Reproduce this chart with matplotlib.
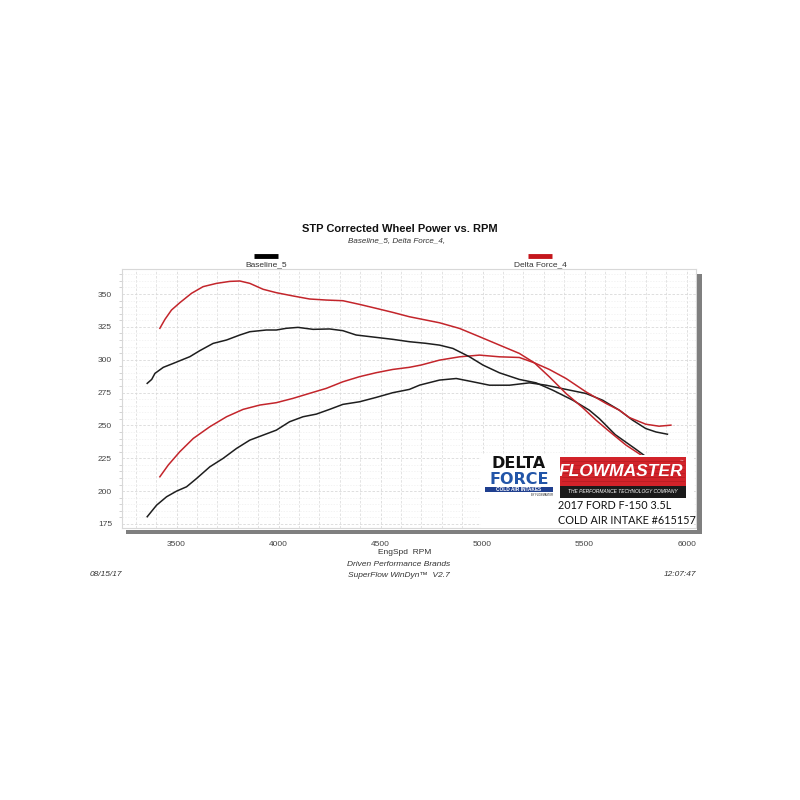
import matplotlib
matplotlib.use("Agg")
import matplotlib.pyplot as plt
from matplotlib.patches import Rectangle
from matplotlib.ticker import MultipleLocator

# --- data ---
df_tq_rpm = [3418, 3443, 3475, 3516, 3573, 3630, 3696, 3761, 3810, 3859, 3924, 3989,
             4071, 4152, 4234, 4315, 4397, 4478, 4560, 4641, 4789, 4887, 4985, 5083,
             5180, 5254, 5327, 5409, 5490, 5556, 5605, 5703, 5801, 5880]
df_tq = [323.9, 330.7, 337.8, 343.4, 350.5, 355.6, 358.1, 359.6, 359.9, 358.1, 353.6, 351.0,
         348.5, 346.2, 345.4, 344.9, 342.1, 339.1, 336.0, 332.7, 328.1, 323.8, 317.5, 311.1,
         304.8, 297.6, 287.0, 274.3, 263.6, 254.0, 247.5, 235.0, 225.0, 216.0]

base_tq_rpm = [3356, 3378, 3394, 3435, 3484, 3533, 3565, 3614, 3679, 3745, 3810, 3859,
               3940, 3989, 4038, 4095, 4169, 4250, 4315, 4380, 4478, 4560, 4641, 4720,
               4789, 4854, 4936, 5002, 5083, 5180, 5262, 5344, 5442, 5523, 5572, 5650,
               5750, 5820, 5880]
base_tq = [282.0, 285.0, 289.6, 294.2, 297.2, 300.3, 302.3, 306.9, 312.4, 315.0, 318.8, 321.3,
           322.6, 322.6, 323.9, 324.6, 323.1, 323.4, 322.1, 318.8, 317.0, 315.5, 313.7, 312.5,
           311.1, 308.6, 302.2, 295.9, 290.0, 285.0, 282.4, 276.8, 269.2, 261.6, 255.2, 243.0,
           232.0, 224.0, 216.0]

df_hp_rpm = [3418, 3459, 3516, 3582, 3663, 3745, 3826, 3908, 3989, 4071, 4152, 4234,
             4315, 4397, 4478, 4560, 4641, 4700, 4789, 4887, 4985, 5083, 5180, 5254,
             5327, 5409, 5507, 5605, 5670, 5719, 5800, 5865, 5923]
df_hp = [210.9, 219.8, 230.0, 240.1, 249.0, 256.6, 262.2, 265.5, 267.3, 270.6, 274.4, 278.2,
         283.2, 287.1, 290.1, 292.6, 294.2, 296.0, 299.7, 302.2, 303.5, 302.2, 301.7, 297.6,
         292.6, 285.7, 275.5, 266.7, 261.6, 256.0, 250.9, 249.4, 250.2]

base_hp_rpm = [3356, 3402, 3451, 3500, 3549, 3598, 3663, 3728, 3794, 3859, 3924, 3989,
               4054, 4120, 4185, 4250, 4315, 4397, 4478, 4560, 4641, 4692, 4789, 4871,
               4952, 5034, 5132, 5230, 5311, 5409, 5507, 5588, 5670, 5735, 5800, 5850, 5906]
base_hp = [180.5, 189.3, 195.7, 200.0, 203.3, 209.6, 218.5, 224.9, 232.5, 238.8, 242.6, 246.4,
           252.8, 256.6, 258.6, 262.2, 266.0, 268.0, 271.3, 274.9, 277.4, 280.7, 284.5, 285.7,
           283.2, 280.6, 280.6, 282.4, 280.6, 277.4, 274.3, 269.2, 261.6, 254.0, 247.6, 245.0, 243.3]

x_ticks = [3500, 4000, 4500, 5000, 5500, 6000]
y_ticks = [175, 200, 225, 250, 275, 300, 325, 350]

RED = "#c3252b"
BLK = "#1e1e1e"
SANS = ["Liberation Sans", "DejaVu Sans"]
TXT = "#333333"

fig = plt.figure(figsize=(8, 8), dpi=100)
fig.patch.set_facecolor("white")

# main plot area (pixel box 121.7..696 x 269..528.3)
ax = fig.add_axes([121.7 / 800, 1 - 528.3 / 800, (696 - 121.7) / 800, (528.3 - 269.3) / 800])
ax.plot(base_hp_rpm, base_hp, color=BLK, lw=1.1)
ax.plot(df_hp_rpm, df_hp, color=RED, lw=1.1)
ax.plot(base_tq_rpm, base_tq, color=BLK, lw=1.1)
ax.plot(df_tq_rpm, df_tq, color=RED, lw=1.1)

ax.set_xlim(3231, 6046)
ax.set_ylim(171.7, 368.8)
ax.set_xticks(x_ticks)
ax.set_yticks(y_ticks)
ax.xaxis.set_minor_locator(MultipleLocator(100))
ax.yaxis.set_minor_locator(MultipleLocator(5))
ax.grid(which="major", color="#d9d9d9", ls=(0, (3, 2)), lw=0.6)
ax.grid(which="minor", axis="x", color="#dedede", ls=(0, (3, 2)), lw=0.6)
ax.grid(which="minor", axis="y", color="#efefef", ls=(0, (2, 2)), lw=0.5)
ax.tick_params(which="major", length=0, labelsize=6, labelcolor="#444444")
ax.tick_params(axis="y", pad=7)
ax.tick_params(axis="x", pad=9)
ax.tick_params(which="minor", axis="y", length=2, color="#cccccc")
ax.tick_params(which="minor", axis="x", length=0)
for lab in ax.get_xticklabels() + ax.get_yticklabels():
    lab.set_family(SANS)
for s in ax.spines.values():
    s.set_color("#d8d8d8")
    s.set_linewidth(0.8)

# overlay in pixel coordinates for the sheet decorations
ov = fig.add_axes([0, 0, 1, 1], zorder=5)
ov.set_xlim(0, 800)
ov.set_ylim(800, 0)
ov.axis("off")
ov.patch.set_alpha(0)

# drop shadow of the plot frame
ov.add_patch(Rectangle((697, 274), 4.5, 260, color="#7f7f7f", lw=0))
ov.add_patch(Rectangle((126, 529.5), 575.5, 4.5, color="#7f7f7f", lw=0))

# titles
ov.text(400, 229, "STP Corrected Wheel Power vs. RPM", ha="center", va="center",
        fontsize=8, weight="bold", family=SANS, color="#111111")
ov.text(397, 241, "Baseline_5, Delta Force_4,", ha="center", va="center",
        fontsize=5.8, style="italic", family=SANS, color=TXT)

# legend swatches
ov.plot([254, 278], [256, 256], color="black", lw=3.5, solid_capstyle="butt")
ov.plot([528, 552], [256, 256], color="#c4161c", lw=3.5, solid_capstyle="butt")
ov.text(266, 265, "Baseline_5", ha="center", va="center", fontsize=6, family=SANS, color=TXT)
ov.text(540, 265, "Delta Force_4", ha="center", va="center", fontsize=6, family=SANS, color=TXT)

# footer
ov.text(405, 552.5, "EngSpd  RPM", ha="center", va="center", fontsize=6, family=SANS, color=TXT)
ov.text(399, 565, "Driven Performance Brands", ha="center", va="center", fontsize=6,
        style="italic", family=SANS, color=TXT)
ov.text(399, 575, "SuperFlow WinDyn\u2122  V2.7", ha="center", va="center", fontsize=6,
        style="italic", family=SANS, color=TXT)
ov.text(90, 575, "08/15/17", ha="left", va="center", fontsize=6, style="italic",
        family=SANS, color=TXT)
ov.text(696, 575, "12:07:47", ha="right", va="center", fontsize=6, style="italic",
        family=SANS, color=TXT)

# logo block
ov.add_patch(Rectangle((481, 455), 213, 72.5, color="white", lw=0))
ov.text(519, 463.5, "DELTA", ha="center", va="center", fontsize=11.5, weight="bold",
        family="DejaVu Sans", color="#111111")
ov.text(519, 479, "FORCE", ha="center", va="center", fontsize=11.5, weight="bold",
        family="DejaVu Sans", color="#2255a8")
ov.add_patch(Rectangle((485, 486.5), 68, 5.5, color="#1f3f8f", lw=0))
ov.text(519, 489.3, "COLD AIR INTAKES", ha="center", va="center", fontsize=3.4,
        weight="bold", family=SANS, color="white")
ov.text(553, 495, "BY FLOWMASTER", ha="right", va="center", fontsize=1.8, family=SANS, color="#111111")

ov.add_patch(Rectangle((560, 457), 126, 29, color="#d2232a", lw=0))
for yy in (461, 465, 469, 473, 477, 481):
    ov.plot([562, 684], [yy, yy], color="#b81c22", lw=0.6)
ov.add_patch(Rectangle((560, 486), 126, 12, color="#1a1a1a", lw=0))
ov.text(621, 471.5, "FLOWMASTER", ha="center", va="center", fontsize=12.5, weight="bold",
        style="italic", family=SANS, color="white")
ov.text(681, 460.5, "\u2122", ha="center", va="center", fontsize=2.5, color="white", family=SANS)
ov.text(623, 491.8, "THE PERFORMANCE TECHNOLOGY COMPANY", ha="center", va="center",
        fontsize=3.5, style="italic", family=SANS, color="white")
ov.text(558, 505.5, "2017 FORD F-150 3.5L", ha="left", va="center", fontsize=7.8,
        family=["Lato", "DejaVu Sans"], color="#111111")
ov.text(558, 520, "COLD AIR INTAKE #615157", ha="left", va="center", fontsize=7.8,
        family=["Lato", "DejaVu Sans"], color="#111111")

fig.savefig("out.png", dpi=100, facecolor="white")
